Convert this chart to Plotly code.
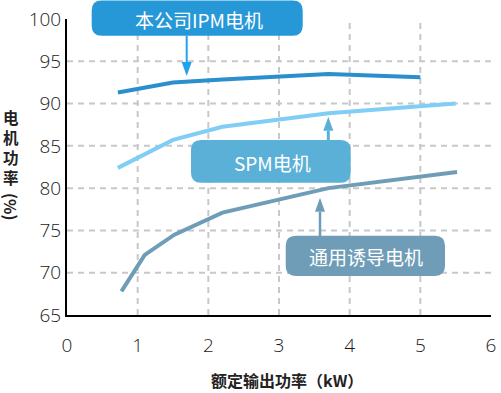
import plotly.graph_objects as go

# ---- data ----
ipm_x = [0.72, 1.5, 2.2, 3.7, 5.0]
ipm_y = [91.3, 92.5, 92.85, 93.5, 93.1]
spm_x = [0.72, 1.5, 2.2, 3.7, 5.5]
spm_y = [82.4, 85.7, 87.25, 88.85, 90.0]
ind_x = [0.77, 1.1, 1.52, 2.2, 3.7, 5.52]
ind_y = [67.8, 72.1, 74.5, 77.1, 80.0, 81.9]

x_ticks = [0, 1, 2, 3, 4, 5, 6]
y_ticks = [65, 70, 75, 80, 85, 90, 95, 100]
x_grid = [1, 2, 3, 4, 5]
y_grid = [70, 75, 80, 85, 90, 95]

series_names = ["本公司IPM电机", "SPM电机", "通用诱导电机"]
x_title = "额定输出功率（kW）"
y_title_chars = ["电", "机", "功", "率"]

C_IPM = "#2b8fcd"
C_SPM = "#80cdf6"
C_IND = "#6f9db8"
BOX_IPM = "#2698d8"
BOX_SPM = "#5bb0d8"
BOX_IND = "#6f9db8"
ARR_IPM = "#1fa3ee"

W, H = 501, 393
ML, MT = 67, 19
MR = W - 491
MB = H - 315
PW, PH = W - ML - MR, H - MT - MB


def pp(px, py):
    """pixel -> paper coords"""
    return ((px - ML) / PW, (H - MB - py) / PH)


def rrect(x0, y0, x1, y1, r):
    def P(a, b):
        u, v = pp(a, b)
        return f"{u:.5f},{v:.5f}"
    return (f"M{P(x0 + r, y0)} L{P(x1 - r, y0)} Q{P(x1, y0)} {P(x1, y0 + r)} "
            f"L{P(x1, y1 - r)} Q{P(x1, y1)} {P(x1 - r, y1)} L{P(x0 + r, y1)} "
            f"Q{P(x0, y1)} {P(x0, y1 - r)} L{P(x0, y0 + r)} Q{P(x0, y0)} {P(x0 + r, y0)} Z")


def tri(xc, ytip, ybase, hw):
    a = pp(xc, ytip); b = pp(xc - hw, ybase); c = pp(xc + hw, ybase)
    return f"M{a[0]:.5f},{a[1]:.5f} L{b[0]:.5f},{b[1]:.5f} L{c[0]:.5f},{c[1]:.5f} Z"


fig = go.Figure()
for xs, ys, col, nm in [(ipm_x, ipm_y, C_IPM, series_names[0]),
                        (spm_x, spm_y, C_SPM, series_names[1]),
                        (ind_x, ind_y, C_IND, series_names[2])]:
    fig.add_trace(go.Scatter(x=xs, y=ys, mode="lines", name=nm,
                             line=dict(color=col, width=4), showlegend=False))

shapes = []
for gx in x_grid:
    shapes.append(dict(type="line", xref="x", yref="y", x0=gx, x1=gx, y0=65, y1=100,
                       line=dict(color="#c8c8c8", width=2, dash="6px,5px"), layer="below"))
for gy in y_grid:
    shapes.append(dict(type="line", xref="x", yref="y", x0=0, x1=6, y0=gy, y1=gy,
                       line=dict(color="#c8c8c8", width=2, dash="6px,5px"), layer="below"))

# label boxes
boxes = [(91.7, 0.5, 302.7, 35.7, BOX_IPM, series_names[0], 199, 19),
         (191, 140, 350.7, 182.7, BOX_SPM, series_names[1], 272.5, 162),
         (285.7, 235.7, 445, 276, BOX_IND, series_names[2], 366, 256.5)]
annotations = []


def label(px, py, txt, font, **kw):
    u, v = pp(px, py)
    annotations.append(dict(x=u, y=v, xref="paper", yref="paper", text=txt, showarrow=False,
                            xanchor="center", yanchor="middle", font=font, **kw))


for x0, y0, x1, y1, col, txt, tx, ty in boxes:
    shapes.append(dict(type="path", xref="paper", yref="paper", path=rrect(x0, y0, x1, y1, 10),
                       fillcolor=col, line=dict(width=0), layer="above"))
    label(tx, ty, txt, dict(family="Noto Sans CJK SC", size=19, color="white"))

# arrows (x px, tail py, tip py, color, width)
arrows = [(186.7, 35.7, 76, ARR_IPM, 2),
          (328.3, 140, 116.7, BOX_SPM, 3),
          (320, 236, 197.7, BOX_IND, 2.5)]
for xc, yt, ytip, col, lw in arrows:
    hl = 14 if ytip > yt else -14
    ybase = ytip - hl
    a = pp(xc, yt); b = pp(xc, ybase)
    shapes.append(dict(type="line", xref="paper", yref="paper", x0=a[0], y0=a[1], x1=b[0], y1=b[1],
                       line=dict(color=col, width=lw), layer="above"))
    shapes.append(dict(type="path", xref="paper", yref="paper", path=tri(xc, ytip, ybase, 5),
                       fillcolor=col, line=dict(width=0), layer="above"))

tfont = dict(family="Noto Sans CJK SC", size=16, color="#222", weight="bold")
label(286.7, 380, x_title, tfont)
label(11, 146.5, "<br>".join(y_title_chars),
      dict(family="Noto Sans CJK SC", size=15.5, color="#222", weight="bold"))
label(11, 207, "(%)", tfont, textangle=90)

fig.update_layout(
    width=W, height=H,
    margin=dict(l=ML, r=MR, t=MT, b=MB, pad=0, autoexpand=False),
    plot_bgcolor="white", paper_bgcolor="white",
    shapes=shapes, annotations=annotations,
    font=dict(family="Open Sans", color="#222"),
    hovermode=False,
)
tf = dict(size=19, family="Open Sans", weight=300, color="#1a1a1a")
fig.update_xaxes(range=[0, 6], tickvals=x_ticks, ticktext=[str(t) for t in x_ticks],
                 showgrid=False, zeroline=False, showline=True, linecolor="black", linewidth=2,
                 ticks="", ticklabelstandoff=12, tickfont=tf, automargin=False,
                 ticklabeloverflow="allow")
fig.update_yaxes(range=[65, 100], tickvals=y_ticks, ticktext=[str(t) for t in y_ticks],
                 showgrid=False, zeroline=False, showline=True, linecolor="black", linewidth=2,
                 ticks="", ticklabelstandoff=0, tickfont=tf, automargin=False,
                 ticklabeloverflow="allow")

fig.write_html("out.html", config={"displayModeBar": False},
               post_script="document.body.style.margin='0';document.body.style.overflow='hidden';")
